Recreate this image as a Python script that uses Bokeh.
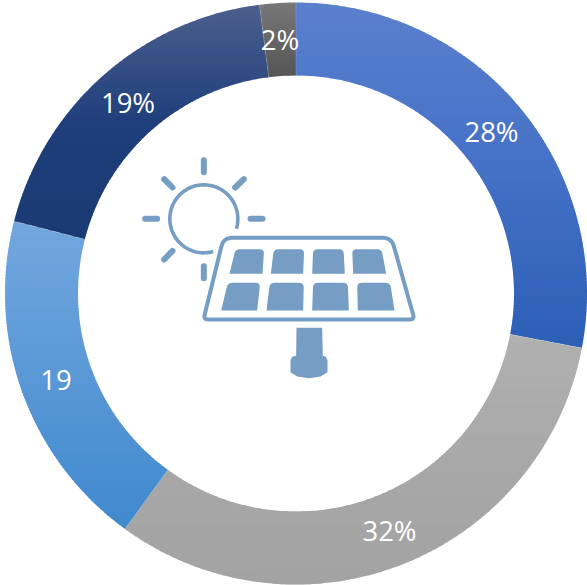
import numpy as np
from bokeh.plotting import figure
from bokeh.embed import file_html
from bokeh.resources import INLINE
from bokeh.core.properties import value

values = [28, 32, 19, 19, 2]
labels = ["28%", "32%", "19", "19%", "2%"]
top_colors = ["#5a80cd", "#b0b0b0", "#72a7de", "#4c5f8d", "#787878"]
mid_colors = ["#4470c6", "#a8a8a8", "#5a98d6", "#1f3f7c", "#666666"]
bot_colors = ["#2b5fb6", "#a3a3a3", "#3f89cd", "#1a3a72", "#555555"]
label_xy = [(491, 131), (389, 530), (55.5, 379), (127.5, 102), (279.5, 39)]

CX, CY, RO, RI = 295.5, 293, 291, 218
W, H = 587, 585
ICON = "#769dc3"

p = figure(width=W, height=H, x_range=(0, W), y_range=(H, 0), toolbar_location=None,
           output_backend="svg", min_border=0, outline_line_color=None,
           background_fill_color="white", border_fill_color="white",
           margin=(0, 0, 0, 0))
p.axis.visible = False
p.grid.visible = False


def clip(poly, y0, keep_below):
    out = []
    n = len(poly)
    for i in range(n):
        a, b = poly[i], poly[(i + 1) % n]
        ina = a[1] >= y0 if keep_below else a[1] <= y0
        inb = b[1] >= y0 if keep_below else b[1] <= y0
        if ina:
            out.append(a)
        if ina != inb:
            t = (y0 - a[1]) / (b[1] - a[1])
            out.append((a[0] + t * (b[0] - a[0]), y0))
    return out


def hex_rgb(c):
    return np.array([int(c[i:i + 2], 16) for i in (1, 3, 5)], float)


start = 0.0
total = sum(values)
xs, ys, cols = [], [], []
sep_x, sep_y = [], []
for v, ct, cm, cb in zip(values, top_colors, mid_colors, bot_colors):
    end = start + v / total * 2 * np.pi
    t = np.linspace(start, end, max(8, int(v * 6)))
    outer = [(CX + RO * np.sin(a), CY - RO * np.cos(a)) for a in t]
    inner = [(CX + RI * np.sin(a), CY - RI * np.cos(a)) for a in t[::-1]]
    poly = outer + inner
    ymin = min(q[1] for q in poly)
    ymax = max(q[1] for q in poly)
    c0, c1, c2 = hex_rgb(ct), hex_rgb(cm), hex_rgb(cb)
    y = ymin
    step = 3.0
    while y < ymax:
        band = clip(clip(poly, y, True), y + step + 0.8, False)
        if len(band) >= 3:
            f = min((y + step / 2 - ymin) / (ymax - ymin), 1)
            col = c0 + (c1 - c0) * f * 2 if f < 0.5 else c1 + (c2 - c1) * (f - 0.5) * 2
            xs.append([q[0] for q in band])
            ys.append([q[1] for q in band])
            cols.append("#%02x%02x%02x" % tuple(int(round(k)) for k in col))
        y += step
    sep_x.append([CX + RI * np.sin(start), CX + RO * np.sin(start)])
    sep_y.append([CY - RI * np.cos(start), CY - RO * np.cos(start)])
    start = end

p.patches(xs, ys, fill_color=cols, line_color=None)
p.multi_line(sep_x, sep_y, line_color="white", line_alpha=0.25, line_width=0.7)

# icon -------------------------------------------------------------
def z(pts):
    return [(x / 3 + 130, y / 3 + 145) for x, y in pts]


def rounded(pts, rs):
    out = []
    n = len(pts)
    for i in range(n):
        pv, c, nx = np.array(pts[i - 1], float), np.array(pts[i], float), np.array(pts[(i + 1) % n], float)
        r = rs[i]
        if r == 0:
            out.append(tuple(c))
            continue
        a = c + (pv - c) / np.linalg.norm(pv - c) * r
        b = c + (nx - c) / np.linalg.norm(nx - c) * r
        for s in np.linspace(0, 1, 7):
            out.append(tuple((1 - s) ** 2 * a + 2 * s * (1 - s) * c + s ** 2 * b))
    return out


cx, cy, r = 220, 220, 102
ang = np.radians(np.linspace(17, -286, 90))
arc = z([(cx + r * np.cos(a), cy + r * np.sin(a)) for a in ang])
p.line([q[0] for q in arc], [q[1] for q in arc], line_color=ICON, line_width=3.6, line_cap="butt")

rays = [[(220, 44), (220, 80)], [(101, 101), (126, 126)], [(340, 101), (314, 126)],
        [(44, 220), (80, 220)], [(360, 220), (396, 220)], [(101, 342), (126, 316)],
        [(220, 362), (220, 398)]]
for ray in rays:
    rr = z(ray)
    p.line([q[0] for q in rr], [q[1] for q in rr], line_color=ICON, line_width=6, line_cap="round")

frame = rounded([(279, 277), (783, 277), (852, 522), (219, 522)], [26, 26, 14, 14])
frame = z(frame + frame[:1])
p.line([q[0] for q in frame], [q[1] for q in frame], line_color=ICON, line_width=4, line_join="round")

cells = [
    [(297, 385), (315, 311), (401, 311), (396, 385)],
    [(421, 385), (430, 311), (521, 311), (518, 385)],
    [(545, 385), (548, 311), (639, 311), (643, 385)],
    [(668, 385), (665, 311), (753, 311), (767, 385)],
    [(272, 495), (292, 412), (389, 412), (380, 495)],
    [(408, 495), (418, 412), (520, 412), (518, 495)],
    [(545, 495), (548, 412), (652, 412), (655, 495)],
    [(682, 495), (680, 412), (779, 412), (792, 495)],
]
cx_, cy_ = [], []
for c in cells:
    rp = z(rounded(c, [0, 14, 14, 0]))
    cx_.append([q[0] for q in rp])
    cy_.append([q[1] for q in rp])
p.patches(cx_, cy_, fill_color=ICON, line_color=None)

post = z([(498, 547), (575, 547), (577, 631), (586, 634), (591, 644), (591, 680), (570, 693), (535, 698),
          (500, 693), (480, 680), (480, 644), (485, 634), (497, 631)])
p.patch([q[0] for q in post], [q[1] for q in post], fill_color=ICON, line_color=None)

# labels -----------------------------------------------------------
p.text([q[0] for q in label_xy], [q[1] for q in label_xy], text=labels, text_color="white",
       text_font=value("Open Sans"), text_font_size="27.5px", text_align="center", text_baseline="middle")

open("out.html", "w").write(file_html(p, INLINE))
